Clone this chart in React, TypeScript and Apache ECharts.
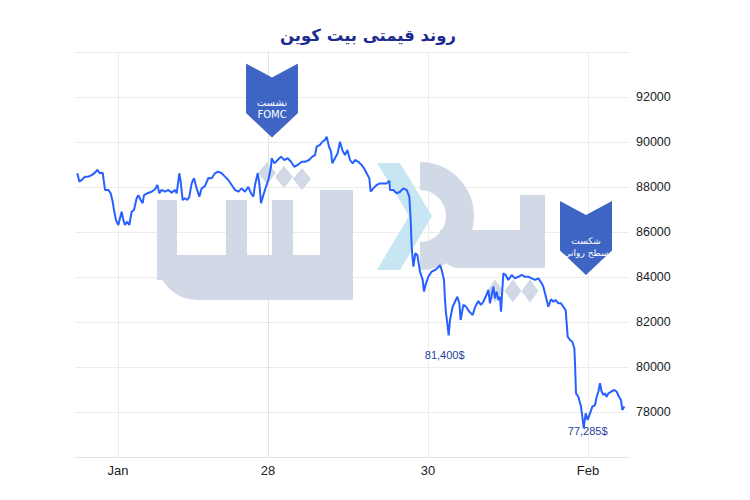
import React, { useEffect, useRef } from "react";
import * as echarts from "echarts";

const titleText = "روند قیمتی بیت کوین";

// hours relative to Jan 28 00:00
const hours = [
  -57.2, -56.6, -55.9, -54.9, -53.9, -52.9, -51.9, -51.2, -50.4, -49.6,
  -48.9, -47.9, -47.2, -46.6, -46.2, -45.6, -44.9, -44.4, -43.9, -43.4,
  -42.9, -42.2, -41.6, -40.9, -40.2, -39.4, -38.9, -38.2, -37.6, -37.2,
  -36.2, -34.9, -33.9, -33.2, -32.6, -31.9, -30.9, -29.9, -28.9, -27.9,
  -27.4, -26.6, -26.2, -25.6, -24.9, -24.2, -23.6, -22.9, -22.2, -21.4,
  -20.6, -19.9, -18.9, -17.9, -16.9, -15.9, -14.9, -13.9, -12.9, -11.9,
  -10.9, -9.9, -8.9, -7.9, -6.9, -5.9, -5.1, -4.4, -3.9, -3.1,
  -2.6, -2.1, -1.4, -0.6, 0.1, 0.9, 1.1, 1.9, 2.9, 3.9,
  4.9, 5.9, 6.9, 7.9, 8.9, 10.1, 11.1, 12.3, 13.3, 14.1,
  14.6, 15.6, 16.3, 17.1, 17.6, 18.3, 18.9, 19.3, 20.1, 20.9,
  21.6, 22.3, 23.1, 23.8, 24.6, 25.4, 26.1, 27.1, 28.1, 28.8,
  29.6, 30.4, 30.8, 31.6, 32.6, 33.6, 34.6, 35.6, 36.4, 36.6,
  37.6, 38.6, 39.6, 40.6, 41.6, 42.4, 42.8, 43.1, 43.6, 44.2,
  44.8, 45.6, 46.4, 46.8, 47.4, 48.1, 49.1, 50.1, 50.8, 51.6,
  52.1, 52.8, 53.1, 53.4, 53.8, 54.2, 54.6, 55.4, 56.1, 56.8,
  57.4, 57.8, 58.6, 59.4, 60.4, 61.4, 62.1, 63.1, 63.9, 64.6,
  65.3, 66.1, 66.6, 67.1, 67.6, 68.1, 68.6, 69.1, 69.6, 69.9,
  70.6, 71.3, 72.1, 73.1, 74.1, 75.1, 76.1, 77.1, 78.1, 79.1,
  80.1, 81.1, 82.1, 82.6, 83.1, 83.6, 84.1, 84.9, 85.6, 86.3,
  87.1, 87.9, 88.6, 89.3, 89.6, 89.9, 90.6, 91.3, 91.9, 92.1,
  92.4, 93.1, 93.9, 94.3, 94.7, 95.3, 95.9, 96.6, 97.3, 98.1,
  98.6, 99.1, 99.6, 100.1, 100.6, 101.1, 101.6, 102.1, 102.9, 103.9,
  104.6, 105.3, 105.9, 106.3, 106.9,
];

const prices = [
  88610, 88240, 88310, 88460, 88460, 88530, 88640, 88760, 88610, 88640,
  87870, 87870, 87720, 87350, 86980, 86530, 86310, 86610, 86900, 86530,
  86310, 86460, 86310, 86900, 86980, 87500, 87640, 87420, 87280, 87640,
  87720, 87790, 87900, 88090, 87720, 87870, 87790, 87870, 87750, 87870,
  87720, 88610, 88240, 87420, 87500, 87420, 87570, 88160, 88390, 87940,
  87570, 87940, 88040, 88400, 88390, 88610, 88680, 88610, 88460, 88310,
  88090, 87870, 87790, 87940, 87790, 88010, 87720, 87570, 88090, 88610,
  88160, 87280, 87640, 88010, 88310, 88900, 89280, 89050, 89200, 89350,
  89200, 89280, 89120, 88900, 88980, 89120, 89120, 89200, 89350, 89420,
  89790, 89870, 90010, 90090, 90240, 89790, 89570, 89050, 89280, 89500,
  90010, 89640, 89420, 89640, 89200, 89050, 89200, 89120, 88980, 88830,
  88610, 88390, 87790, 87940, 88090, 88160, 88160, 88160, 88280, 87870,
  87870, 87720, 87790, 87940, 87870, 87570, 86530, 85350, 84460, 85050,
  84980, 84240, 83870, 83350, 83720, 84010, 84240, 84310, 84390, 84530,
  84310, 83870, 82980, 82390, 81940, 81400, 82090, 82680, 82900, 83120,
  82830, 82090, 82760, 82680, 82460, 82310, 82650, 82930, 82760, 82900,
  83120, 83420, 82830, 83200, 83570, 83050, 83350, 82980, 83120, 82460,
  84160, 84090, 83870, 84090, 83940, 84010, 84090, 84010, 84010, 83940,
  83870, 83940, 83720, 83570, 83280, 82980, 82680, 83010, 82900, 82980,
  82830, 82830, 82680, 82530, 81940, 81350, 81200, 81120, 80830, 80170,
  78830, 78680, 78240, 77790, 77285, 77940, 77650, 77940, 78240, 78310,
  78680, 78900, 79280, 78900, 78760, 78830, 78680, 78830, 78900, 78980,
  78900, 78680, 78530, 78090, 78240,
];

const xTickHours = [-45, 0, 48, 96];
const xTickLabels = ["Jan", "28", "30", "Feb"];

const lowHours = [54.2, 94.7];
const lowPrices = [81400, 77285];
const lowLabels = ["81,400$", "77,285$"];

const eventHours = [1.2, 95.4];
const eventPrices = [91840, 85730];
const eventLabels = [
  ["نشست", "FOMC"],
  ["شکست", "سطح روانی"],
];

const chevronPath = "path://M0,0 L26,14 L52,0 L52,50 L26,75 L0,50 Z";

function diamond(cx: number, cy: number, w: number, h: number, fill: string) {
  return {
    type: "polygon",
    z: 1,
    shape: { points: [[cx, cy - h / 2], [cx + w / 2, cy], [cx, cy + h / 2], [cx - w / 2, cy]] },
    style: { fill },
  };
}

export default function App() {
  const ref = useRef<HTMLDivElement>(null);
  useEffect(() => {
    if (!ref.current) return;
    const chart = echarts.init(ref.current, null, { renderer: "svg" });
    const wm = "#d2d9e6";
    const wmBlue = "#c8e5f4";
    const labelOffsets = [
      [-4, 19],
      [4, 3],
    ];
    const eventOffsets = [
      [0, 8],
      [0, 9],
    ];
    const eventFont = [10, 9];
    const option: any = {
      animation: false,
      backgroundColor: "#ffffff",
      grid: { left: 75, right: 121, top: 52, bottom: 43 },
      graphic: [
        {
          type: "text",
          x: 368,
          y: 35,
          z: 5,
          style: {
            text: titleText,
            fill: "#1d2b8f",
            font: 'bold 16.5px "DejaVu Sans"',
            textAlign: "center",
            textVerticalAlign: "middle",
          },
        },
        // watermark logo (decorative)
        { type: "rect", z: 1, shape: { x: 157, y: 200, width: 20, height: 80 }, style: { fill: wm } },
        { type: "rect", z: 1, shape: { x: 157, y: 255, width: 196, height: 45, r: [0, 0, 0, 40] }, style: { fill: wm } },
        { type: "rect", z: 1, shape: { x: 226, y: 200, width: 21, height: 60 }, style: { fill: wm } },
        { type: "rect", z: 1, shape: { x: 272, y: 200, width: 21, height: 60 }, style: { fill: wm } },
        { type: "rect", z: 1, shape: { x: 320, y: 190, width: 33, height: 110 }, style: { fill: wm } },
        diamond(267, 173, 18, 22, wm),
        diamond(284, 177, 18, 22, wm),
        diamond(302, 179, 18, 22, wm),
        {
          type: "sector",
          z: 1,
          shape: { cx: 420, cy: 216, r: 54, r0: 26, startAngle: -Math.PI / 2, endAngle: Math.PI / 2, clockwise: true },
          style: { fill: wm },
        },
        {
          type: "polygon",
          z: 1,
          shape: { points: [[377, 163], [400, 163], [432, 216], [400, 270], [377, 270], [409, 216]] },
          style: { fill: wmBlue },
        },
        { type: "rect", z: 1, shape: { x: 440, y: 230, width: 105, height: 38, r: [0, 0, 19, 19] }, style: { fill: wm } },
        { type: "rect", z: 1, shape: { x: 520, y: 195, width: 25, height: 73 }, style: { fill: wm } },
        diamond(495, 291, 17, 23, wm),
        diamond(513, 291, 17, 23, wm),
        diamond(530, 291, 17, 23, wm),
      ],
      xAxis: {
        type: "value",
        min: -57.9,
        max: 108.3,
        axisLine: { show: true, lineStyle: { color: "#e3e3e3", width: 1 } },
        axisTick: { show: false, customValues: xTickHours },
        axisLabel: {
          customValues: xTickHours,
          formatter: (v: number) => {
            const i = xTickHours.indexOf(v);
            return i >= 0 ? xTickLabels[i] : "";
          },
          color: "#222",
          fontSize: 13,
          fontFamily: "Liberation Sans",
          margin: 7,
        },
        splitLine: { show: true, lineStyle: { color: "#ececec", width: 1 } },
      },
      yAxis: {
        type: "value",
        position: "right",
        min: 76000,
        max: 94000,
        interval: 2000,
        axisLine: { show: true, lineStyle: { color: "#e3e3e3" } },
        axisTick: { show: true, length: 4, lineStyle: { color: "#e3e3e3" } },
        axisLabel: {
          showMinLabel: false,
          showMaxLabel: false,
          formatter: (v: number) => String(v),
          color: "#222",
          fontSize: 12.5,
          fontFamily: "Liberation Sans",
          margin: 7,
        },
        splitLine: { show: true, lineStyle: { color: "#ececec", width: 1 } },
      },
      series: [
        {
          type: "line",
          data: hours.map((h, i) => [h, prices[i]]),
          showSymbol: false,
          symbol: "none",
          z: 3,
          lineStyle: { color: "#2660ff", width: 2 },
          markPoint: {
            z: 6,
            data: [
              ...eventHours.map((h, i) => ({
                coord: [h, eventPrices[i]],
                symbol: chevronPath,
                symbolSize: [52, 74],
                itemStyle: { color: "#3e65c3" },
                label: {
                  show: true,
                  formatter: eventLabels[i].join("\n"),
                  color: "#ffffff",
                  fontSize: eventFont[i],
                  lineHeight: 12,
                  fontFamily: "DejaVu Sans",
                  offset: eventOffsets[i],
                },
              })),
              ...lowHours.map((h, i) => ({
                coord: [h, lowPrices[i]],
                symbol: "circle",
                symbolSize: 1,
                itemStyle: { color: "rgba(0,0,0,0)" },
                label: {
                  show: true,
                  formatter: lowLabels[i],
                  color: "#1f3f9f",
                  fontSize: 11,
                  fontFamily: "Liberation Sans",
                  offset: labelOffsets[i],
                },
              })),
            ],
          },
        },
      ],
    };
    chart.setOption(option);
    return () => chart.dispose();
  }, []);
  return (
    <div
      ref={ref}
      style={{ position: "fixed", left: 0, top: 0, width: 750, height: 500, background: "#fff" }}
    />
  );
}
